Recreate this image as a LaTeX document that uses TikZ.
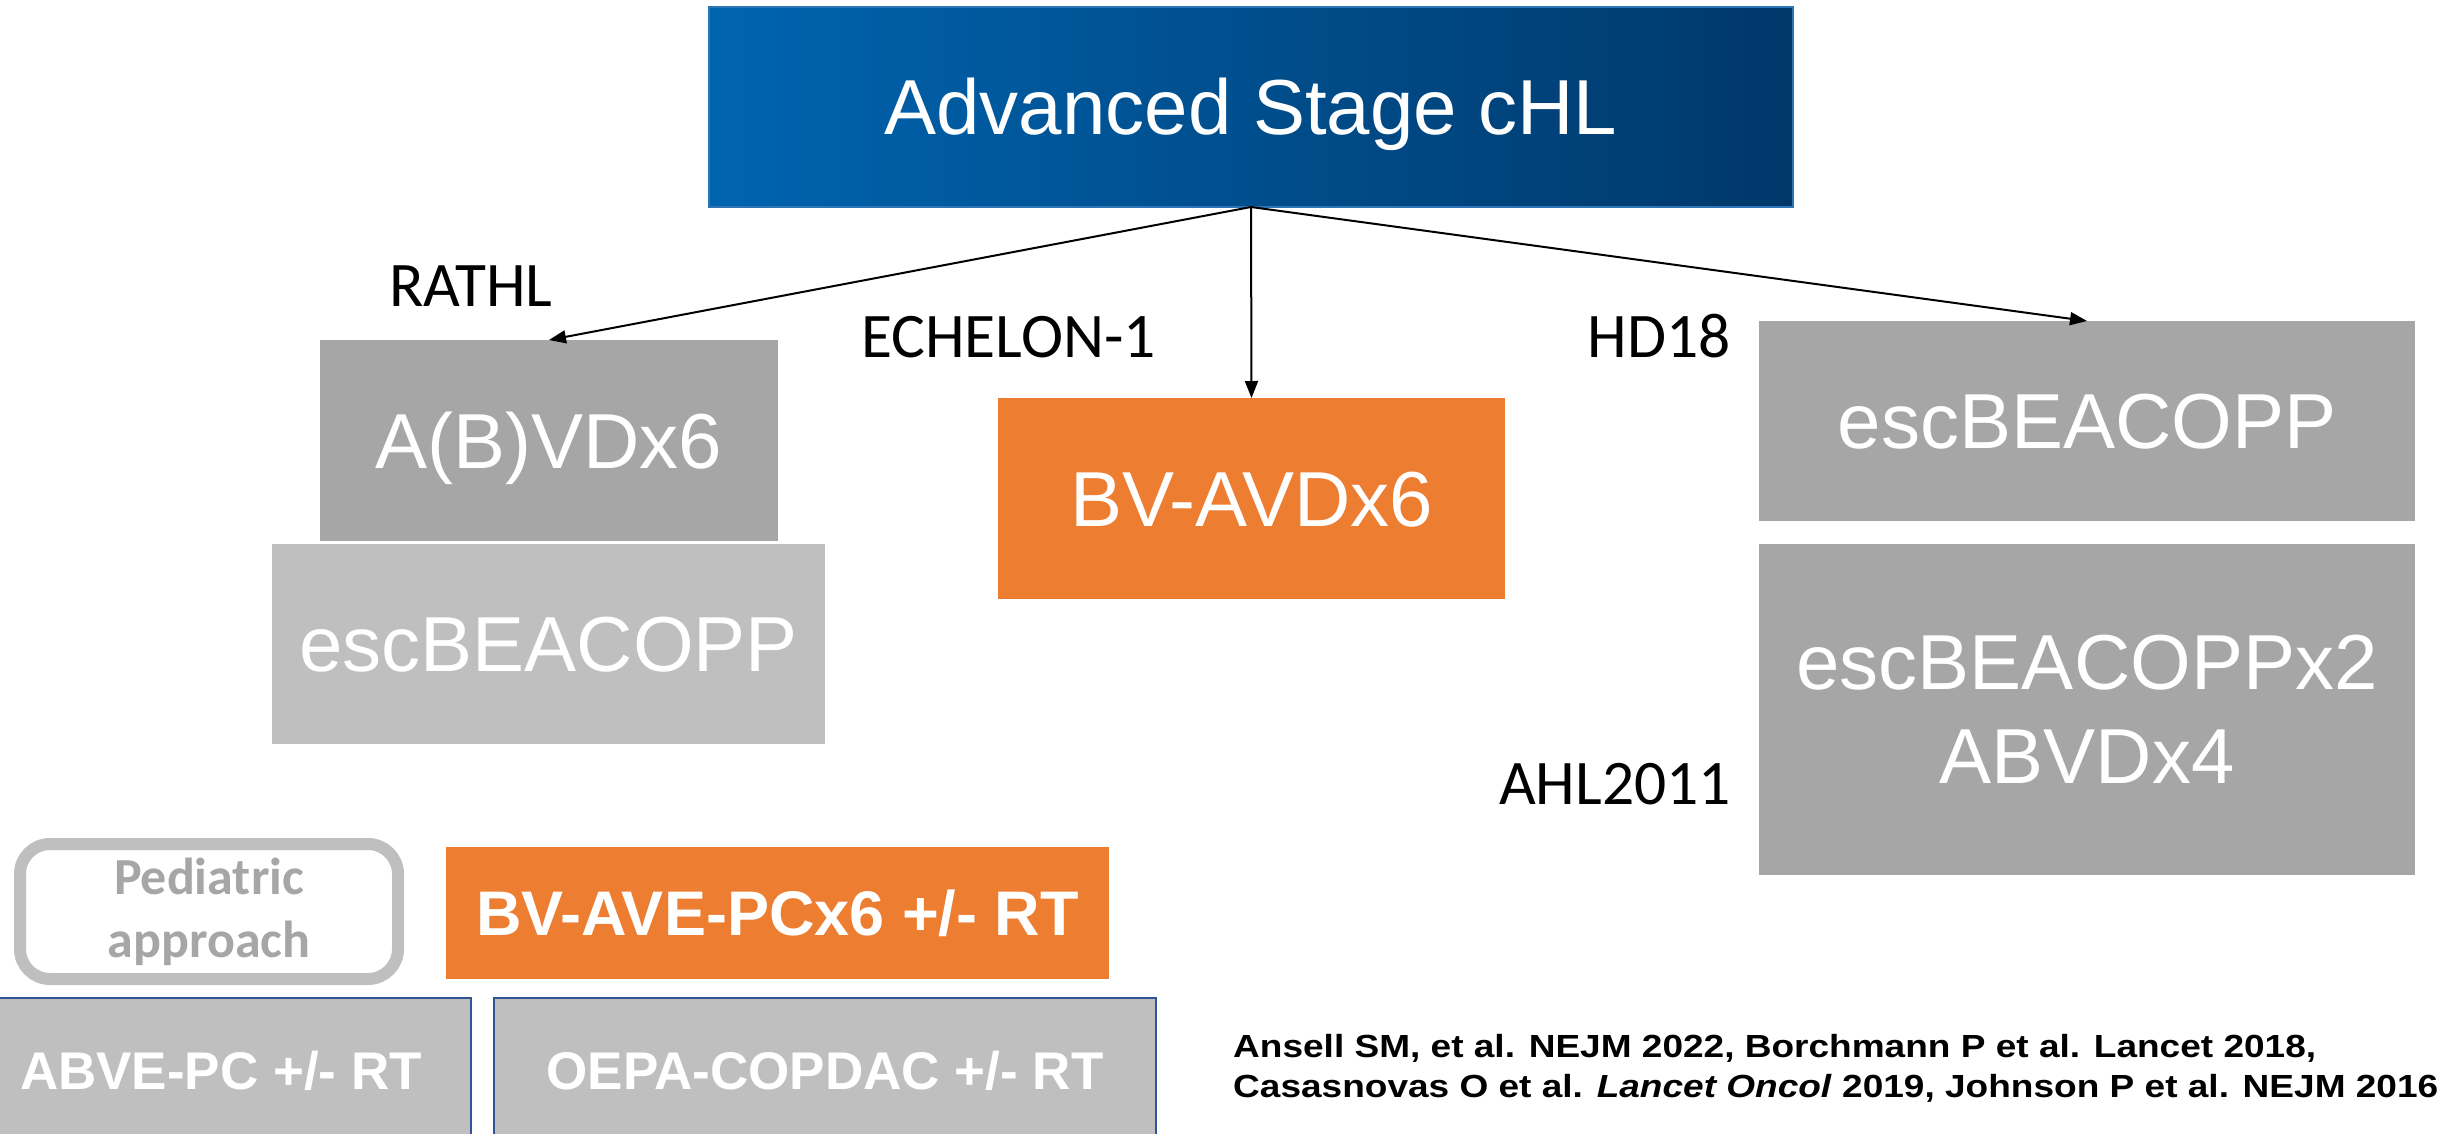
\documentclass[tikz,border=0pt]{standalone}
\usepackage{fontspec}
\setmainfont{Liberation Sans}
\newfontfamily\calib{Carlito}
\newfontfamily\reffont{Liberation Sans}[FakeStretch=1.157]
\usetikzlibrary{arrows.meta}
\definecolor{topL}{HTML}{0064AF}
\definecolor{topR}{HTML}{00386A}
\definecolor{topedge}{HTML}{2E75B6}
\definecolor{gdark}{HTML}{A6A6A6}
\definecolor{glight}{HTML}{BFBFBF}
\definecolor{orng}{HTML}{ED7D31}
\definecolor{bordblue}{HTML}{2F5597}
\begin{document}
\begin{tikzpicture}[x=1pt,y=-1pt,
  box/.style={inner sep=0pt, outer sep=0pt, text=white},
  big/.style={font=\fontsize{78}{94}\selectfont, text height=55.8pt, text depth=0pt},
  boldmid/.style={font=\bfseries\fontsize{63}{76}\selectfont, text height=45.1pt, text depth=0pt},
  boldsmall/.style={font=\bfseries\fontsize{53}{64}\selectfont, text height=38pt, text depth=0pt},
  lbl/.style={inner sep=0pt, font=\calib\fontsize{63.5}{76}\selectfont, text=black},
  conn/.style={-{Triangle[length=17pt,width=13pt]}, line width=2pt, black}
]
\useasboundingbox (0,0) rectangle (2445,1133);
\clip (0,0) rectangle (2445,1133);

% top box
\node[box, big, minimum width=1084pt, minimum height=200pt,
      left color=topL, right color=topR, draw=topedge, line width=1.5pt]
      (top) at (1251,107) {Advanced Stage cHL};

% left column
\node[box, big, fill=gdark, minimum width=458pt, minimum height=201pt]
      (abvd) at (549,440.5) {A(B)VDx6};
\node[box, big, fill=glight, minimum width=553pt, minimum height=200pt]
      (escL) at (548.5,644) {escBEACOPP};

% middle
\node[box, big, fill=orng, minimum width=507pt, minimum height=201pt]
      (bvavd) at (1251.5,498.5) {BV-AVDx6};

% right column
\node[box, big, fill=gdark, minimum width=656pt, minimum height=200pt]
      (escR) at (2087,421) {escBEACOPP};
\node[box, fill=gdark, minimum width=656pt, minimum height=331pt, align=center,
      font=\fontsize{78}{94}\selectfont]
      (esc2) at (2087,709.5) {escBEACOPPx2\\ABVDx4};

% trial labels
\node[lbl, anchor=base west] (rathl) at (389,306) {RATHL};
\node[lbl, anchor=base west] (echelon) at (861,357) {ECHELON-1};
\node[lbl, anchor=base east] (hd18) at (1731,357) {HD18};
\node[lbl, anchor=base east] (ahl) at (1731,804) {AHL2011};

% arrows
\draw[conn] (top.south) -- (abvd.north);
\draw[conn] (top.south) -- (bvavd.north);
\draw[conn] (top.south) -- (escR.north);

% pediatric row
\node[draw=glight, line width=12pt, rounded corners=30pt, fill=white,
      minimum width=378pt, minimum height=135pt, inner sep=0pt, text=gdark,
      font=\calib\bfseries\fontsize{52}{63}\selectfont, align=center]
      (ped) at (209,911.5) {Pediatric\\approach};
\node[box, boldmid, fill=orng, minimum width=663pt, minimum height=132pt]
      (bvave) at (777.5,913) {BV-AVE-PCx6 +/- RT};
\node[box, boldsmall, fill=glight, draw=bordblue, line width=2.5pt,
      minimum width=500pt, minimum height=144pt]
      (abve) at (221,1070) {ABVE-PC +/- RT};
\node[box, boldsmall, fill=glight, draw=bordblue, line width=2.5pt,
      minimum width=662pt, minimum height=144pt]
      (oepa) at (825,1070) {OEPA-COPDAC +/- RT};

% references
\node[anchor=north west, inner sep=0pt, align=left,
      font=\reffont\bfseries\fontsize{32}{40}\selectfont]
      (refs) at (1233,1034)
      {Ansell SM, et al. NEJM 2022, Borchmann P et al. Lancet 2018,\\
       Casasnovas O et al. \textit{Lancet Oncol} 2019, Johnson P et al. NEJM 2016};
\end{tikzpicture}
\end{document}
